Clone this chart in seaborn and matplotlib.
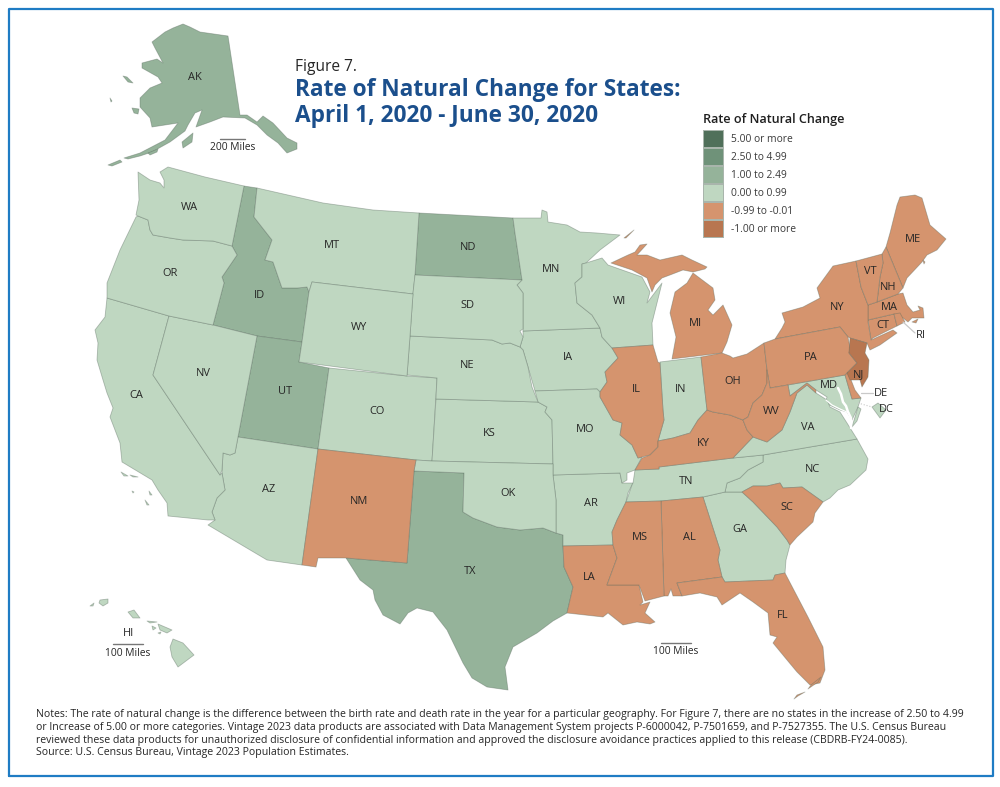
import matplotlib
matplotlib.use("Agg")
import matplotlib.pyplot as plt
from matplotlib.colors import ListedColormap, to_rgba
import numpy as np
import pandas as pd
import seaborn as sns

# Legend bins, top to bottom
BINS = ["5.00 or more", "2.50 to 4.99", "1.00 to 2.49", "0.00 to 0.99", "-0.99 to -0.01", "-1.00 or more"]
BIN_COLORS = ["#50705a", "#6f9279", "#95b39a", "#bfd7c1", "#d5946e", "#b87650"]

# States per bin
BIN_1_TO_2 = ["AK", "ID", "ND", "TX", "UT"]
BIN_0_TO_1 = ["AZ", "AR", "CA", "CO", "DC", "GA", "HI", "IN", "IA", "KS", "MD", "MN", "MO", "MT", "NE",
              "NV", "NC", "OK", "OR", "SD", "TN", "VA", "WA", "WI", "WY"]
BIN_NEG_SMALL = ["AL", "CT", "DE", "FL", "IL", "KY", "LA", "ME", "MA", "MI", "MS", "NH", "NM", "NY", "OH", "PA",
                 "RI", "SC", "VT", "WV"]
BIN_NEG_LARGE = ["NJ"]

OUTLINES = {
    "AK": [[(183, 24), (190, 27), (200, 32), (228, 36), (240, 115), (247, 115), (257, 122), (263, 116), (273, 123),
            (287, 138), (297, 143), (297, 149), (287, 153), (278, 143), (267, 135), (257, 125), (245, 118), (223, 117),
            (210, 122), (196, 127), (202, 110), (195, 113), (188, 125), (185, 131), (170, 142), (152, 152), (140, 156),
            (128, 159), (124, 158), (140, 153), (165, 140), (178, 123), (152, 127), (150, 118), (140, 107),
            (140, 98), (150, 88), (162, 83), (158, 77), (142, 68), (142, 63), (157, 59), (163, 63), (155, 48),
            (152, 42), (165, 32), (173, 28)],
           [(182, 142), (193, 133), (192, 142), (183, 148)],
           [(123, 76), (127, 77), (133, 83), (128, 82)],
           [(132, 108), (139, 109), (138, 114), (134, 113)],
           [(110, 98), (112, 101), (111, 102)],
           [(108, 165), (120, 160), (122, 162), (112, 166)],
           [(148, 153), (158, 149), (157, 152), (150, 155)]],
    "WA": [[(138, 172), (150, 180), (160, 183), (164, 188), (164, 180), (160, 172), (168, 167), (205, 177), (244, 186),
            (232, 246), (213, 241), (183, 240), (170, 238), (153, 235), (150, 230), (148, 220), (138, 216), (136, 215),
            (139, 200)]],
    "OR": [[(136, 217), (138, 216), (148, 220), (150, 230), (153, 235), (170, 238), (183, 240), (213, 241), (232, 246),
            (237, 255), (222, 277), (224, 283), (213, 325), (169, 316), (107, 298), (107, 283), (120, 250)]],
    "CA": [[(107, 298), (169, 316), (153, 375), (220, 475), (222, 473), (225, 490), (217, 498), (212, 512), (215, 520),
            (208, 520), (168, 516), (167, 503), (158, 490), (152, 480), (122, 462), (120, 443), (110, 417), (113, 408),
            (107, 393), (103, 380), (97, 360), (98, 343), (95, 330), (105, 317)],
           [(121, 472), (128, 476), (124, 476)], [(130, 475), (138, 477), (133, 477)],
           [(132, 491), (134, 492), (133, 493)], [(149, 491), (152, 495), (150, 495)], [(145, 500), (149, 505), (147, 505)]],
    "NV": [[(169, 316), (213, 325), (257, 336), (238, 437), (235, 453), (230, 455), (223, 453), (222, 470), (220, 475),
            (153, 375)]],
    "ID": [[(244, 186), (257, 188), (254, 217), (272, 240), (265, 260), (273, 262), (282, 288), (297, 288), (307, 287),
            (309, 292), (302, 342), (257, 336), (213, 325), (224, 283), (222, 277), (237, 255), (232, 246)]],
    "MT": [[(257, 188), (323, 203), (373, 210), (419, 213), (415, 275), (413, 294), (312, 282), (309, 292), (307, 287),
            (297, 288), (282, 288), (273, 262), (265, 260), (272, 240), (254, 217)]],
    "ND": [[(419, 213), (513, 218), (515, 233), (518, 253), (522, 280), (415, 275)]],
    "SD": [[(415, 275), (522, 280), (517, 285), (523, 293), (523, 329), (520, 331), (523, 337), (520, 347), (515, 345),
            (510, 343), (502, 344), (492, 340), (410, 336), (413, 293)]],
    "NE": [[(410, 336), (492, 340), (502, 344), (510, 343), (515, 345), (520, 347), (523, 350), (528, 367), (532, 387),
            (538, 402), (436, 399), (437, 378), (407, 375)]],
    "WY": [[(312, 282), (413, 294), (410, 336), (407, 376), (299, 362), (302, 342), (309, 292)]],
    "UT": [[(257, 336), (302, 342), (299, 362), (329, 368), (318, 449), (238, 437)]],
    "CO": [[(329, 368), (407, 376), (437, 378), (432, 461), (416, 460), (318, 449)]],
    "KS": [[(436, 399), (538, 402), (547, 407), (545, 412), (552, 420), (553, 464), (432, 461)]],
    "OK": [[(416, 460), (432, 461), (553, 464), (553, 475), (556, 500), (556, 533), (543, 528), (520, 530), (497, 527),
            (473, 518), (463, 512), (464, 473), (414, 471)]],
    "NM": [[(318, 449), (416, 460), (414, 471), (407, 563), (346, 558), (318, 558), (316, 567), (302, 565)]],
    "TX": [[(414, 471), (464, 473), (463, 512), (473, 518), (497, 527), (520, 530), (543, 528), (556, 533), (563, 535),
            (563, 546), (564, 567), (573, 587), (567, 613), (553, 621), (537, 633), (513, 647), (505, 667), (508, 690),
            (487, 687), (472, 678), (463, 663), (447, 630), (433, 612), (417, 608), (408, 613), (400, 624), (383, 615),
            (375, 600), (373, 590), (360, 580), (346, 558), (407, 563)]],
    "AZ": [[(223, 453), (230, 455), (235, 453), (238, 437), (318, 449), (302, 565), (267, 560), (208, 525), (215, 520),
            (212, 512), (217, 498), (225, 490), (222, 473)]],
    "MN": [[(513, 218), (541, 218), (542, 210), (547, 212), (548, 222), (567, 225), (580, 232), (597, 233), (620, 235),
            (600, 250), (586, 263), (582, 264), (582, 277), (575, 283), (577, 303), (592, 315), (600, 328), (523, 331),
            (523, 293), (517, 285), (522, 280), (518, 253), (515, 233)]],
    "WI": [[(586, 263), (602, 258), (608, 265), (642, 277), (650, 292), (647, 303), (662, 283), (652, 323), (653, 345),
            (612, 348), (602, 337), (600, 328), (592, 315), (577, 303), (575, 283), (582, 277), (582, 264)]],
    "IA": [[(523, 331), (600, 328), (602, 337), (612, 348), (618, 358), (605, 372), (607, 382), (600, 392), (597, 389),
            (535, 391), (528, 367), (523, 350), (520, 347), (523, 337)]],
    "IL": [[(612, 348), (653, 345), (658, 362), (660, 363), (663, 410), (664, 420), (658, 441), (658, 447), (650, 455),
            (642, 457), (638, 458), (632, 445), (620, 435), (622, 423), (613, 420), (600, 397), (600, 392), (607, 382),
            (605, 372), (618, 358)]],
    "IN": [[(660, 362), (701, 357), (707, 410), (698, 420), (690, 433), (673, 438), (658, 441), (664, 420), (663, 410)]],
    "OH": [[(701, 357), (722, 353), (730, 356), (733, 358), (747, 354), (764, 343), (767, 370), (767, 383), (762, 395),
            (753, 403), (748, 417), (743, 420), (730, 415), (713, 412), (707, 410)]],
    "KY": [[(707, 410), (713, 412), (730, 415), (743, 420), (747, 430), (753, 437), (733, 458), (659, 467), (659, 469),
            (635, 470), (642, 458), (650, 455), (658, 447), (658, 441), (673, 438), (690, 433), (698, 420)]],
    "TN": [[(635, 470), (659, 469), (659, 467), (733, 458), (763, 455), (763, 462), (748, 470), (740, 478), (727, 483),
            (725, 492), (703, 497), (661, 501), (626, 502), (632, 485), (633, 483)]],
    "NC": [[(763, 455), (857, 439), (868, 459), (866, 470), (850, 485), (838, 490), (830, 498), (823, 502), (802, 487),
            (783, 488), (780, 483), (767, 486), (753, 486), (742, 492), (725, 492), (727, 483), (740, 478), (748, 470),
            (763, 462)]],
    "VA": [[(733, 458), (753, 437), (767, 442), (782, 430), (790, 412), (797, 393), (807, 385), (816, 393), (827, 400),
            (830, 407), (840, 412), (847, 423), (857, 439), (763, 455)],
           [(852, 427), (858, 407), (861, 409), (857, 421)]],
    "WV": [[(767, 370), (770, 388), (788, 385), (790, 396), (807, 383), (816, 390), (816, 393), (807, 385), (797, 393),
            (790, 412), (782, 430), (767, 442), (753, 437), (747, 430), (743, 420), (748, 417), (753, 403), (762, 395),
            (767, 383)]],
    "MD": [[(788, 385), (845, 375), (852, 399), (861, 398), (858, 407), (852, 420), (847, 412), (840, 410), (825, 403),
            (827, 397), (816, 390), (807, 383), (790, 396)]],
    "DE": [[(845, 375), (848, 372), (855, 390), (861, 398), (852, 399)]],
    "PA": [[(764, 343), (775, 339), (840, 327), (848, 337), (850, 348), (849, 353), (857, 363), (847, 373), (845, 375),
            (770, 388), (767, 370)]],
    "NJ": [[(850, 338), (867, 343), (865, 353), (869, 360), (868, 377), (862, 387), (860, 380), (850, 380), (847, 373),
            (857, 363), (849, 353)]],
    "NY": [[(775, 339), (782, 328), (785, 322), (782, 313), (803, 307), (820, 298), (817, 288), (833, 266), (856, 261),
            (861, 287), (868, 305), (868, 322), (871, 340), (893, 330), (897, 333), (880, 345), (870, 350), (867, 343),
            (850, 338), (848, 337), (840, 327)]],
    "VT": [[(856, 261), (882, 254), (883, 263), (880, 277), (877, 302), (868, 305), (861, 287)]],
    "NH": [[(882, 254), (886, 247), (903, 288), (898, 294), (877, 302), (880, 277), (883, 263)]],
    "ME": [[(886, 247), (890, 233), (897, 205), (900, 197), (915, 195), (922, 198), (930, 225), (938, 232), (946, 239),
            (937, 250), (927, 255), (922, 262), (907, 278), (903, 288)],
           [(923, 260), (925, 262), (924, 264)]],
    "MA": [[(868, 305), (877, 302), (898, 294), (903, 293), (907, 305), (913, 312), (920, 310), (918, 306), (923, 308),
            (924, 318), (912, 318), (908, 322), (903, 318), (894, 314), (868, 320)],
           [(912, 322), (918, 319), (916, 323)]],
    "CT": [[(868, 320), (894, 314), (897, 326), (873, 338), (871, 340)]],
    "RI": [[(894, 314), (900, 313), (905, 322), (897, 326)]],
    "MI": [[(611, 263), (628, 255), (635, 252), (640, 245), (647, 244), (637, 255), (647, 255), (660, 260), (682, 255),
            (692, 260), (707, 267), (705, 269), (693, 272), (683, 270), (670, 275), (662, 278), (655, 285), (652, 292),
            (647, 278), (632, 270)],
           [(693, 273), (713, 288), (715, 300), (708, 310), (713, 315), (723, 305), (732, 325), (727, 342), (722, 353),
            (672, 359), (676, 337), (670, 313), (675, 292), (687, 283)],
           [(624, 238), (634, 230), (626, 238)]],
    "MO": [[(535, 391), (597, 389), (600, 392), (600, 397), (613, 420), (622, 423), (620, 435), (632, 445), (638, 458),
            (642, 457), (635, 470), (627, 473), (627, 480), (622, 483), (620, 473), (553, 475), (553, 464), (552, 420),
            (545, 412), (547, 407), (538, 402)]],
    "AR": [[(553, 475), (620, 473), (622, 483), (633, 483), (628, 493), (626, 502), (617, 520), (612, 532), (613, 545),
            (563, 546), (563, 535), (556, 533), (556, 500)]],
    "LA": [[(563, 546), (613, 545), (617, 558), (607, 585), (639, 585), (643, 602), (640, 605), (650, 602), (645, 613),
            (655, 622), (650, 624), (637, 622), (623, 625), (608, 613), (603, 617), (567, 613), (573, 587), (564, 567)]],
    "MS": [[(626, 502), (661, 501), (664, 596), (645, 601), (639, 585), (607, 585), (617, 558), (613, 545), (612, 532),
            (617, 520)]],
    "AL": [[(661, 501), (703, 497), (720, 550), (718, 560), (722, 577), (677, 583), (682, 596), (673, 596), (671, 589),
            (668, 596), (664, 596)]],
    "GA": [[(703, 497), (725, 492), (742, 492), (753, 502), (777, 527), (787, 540), (790, 545), (786, 560), (785, 573),
            (775, 575), (773, 580), (725, 582), (722, 577), (718, 560), (720, 550)]],
    "SC": [[(742, 492), (753, 486), (767, 486), (780, 483), (783, 488), (802, 487), (823, 502), (815, 513), (813, 522),
            (797, 537), (790, 545), (787, 540), (777, 527), (753, 502)]],
    "FL": [[(677, 583), (722, 577), (725, 582), (773, 580), (775, 575), (785, 573), (808, 617), (823, 647), (825, 670),
            (820, 683), (810, 685), (797, 672), (787, 660), (773, 643), (777, 637), (770, 635), (768, 613), (753, 602),
            (740, 593), (722, 605), (717, 597), (700, 593), (682, 596)],
           [(821, 677), (818, 682), (808, 689), (811, 685)],
           [(805, 692), (798, 696), (794, 699), (797, 695)]],
    "HI": [[(173, 639), (183, 643), (194, 655), (178, 667), (172, 657), (170, 647)],
           [(158, 624), (172, 630), (167, 633), (160, 630)],
           [(147, 621), (157, 622), (150, 623)],
           [(152, 626), (156, 628), (153, 630)],
           [(158, 633), (161, 632), (160, 634)],
           [(128, 612), (134, 610), (140, 618), (133, 618)],
           [(100, 600), (108, 599), (108, 603), (103, 606), (99, 603)],
           [(90, 606), (94, 603), (93, 606)]],
    "DC": [[(872, 407), (878, 403), (886, 410), (880, 418)]],
}

# Chesapeake Bay and the Potomac, drawn over Maryland and Virginia
BAY_X = [838, 841, 843, 846, 848, 851, 851]
BAY_Y = [388, 394, 402, 406, 412, 418, 428]
POTOMAC_X = [826, 832, 840, 849]
POTOMAC_Y = [400, 405, 409, 413]

LABELS = {
    "AK": (195, 77), "WA": (189, 207), "OR": (170, 273), "CA": (136, 396), "NV": (203, 374), "ID": (259, 295),
    "MT": (332, 245), "WY": (359, 327), "UT": (285, 392), "CO": (377, 411), "AZ": (269, 490), "NM": (359, 502),
    "ND": (468, 248), "SD": (467, 306), "NE": (467, 366), "KS": (489, 433), "OK": (508, 493), "TX": (470, 571),
    "MN": (551, 269), "IA": (568, 357), "MO": (585, 430), "AR": (591, 503), "LA": (589, 577), "WI": (619, 301),
    "IL": (636, 389), "MS": (640, 537), "IN": (681, 389), "MI": (695, 324), "KY": (703, 444), "TN": (686, 481),
    "AL": (689, 537), "OH": (733, 382), "WV": (771, 412), "GA": (740, 530), "FL": (783, 616), "SC": (787, 508),
    "NC": (812, 469), "VA": (808, 427), "PA": (811, 357), "NY": (837, 307), "ME": (913, 239), "VT": (870, 272),
    "NH": (888, 288), "MA": (889, 308), "CT": (883, 325), "NJ": (858, 375), "RI": (921, 336), "DE": (881, 393),
    "MD": (829, 385), "DC": (886, 409), "HI": (128, 633),
}

NOTES = [
    "Notes: The rate of natural change is the difference between the birth rate and death rate in the year for a particular geography. For Figure 7, there are no states in the increase of 2.50 to 4.99",
    "or Increase of 5.00 or more categories. Vintage 2023 data products are associated with Data Management System projects P-6000042, P-7501659, and P-7527355. The U.S. Census Bureau",
    "reviewed these data products for unauthorized disclosure of confidential information and approved the disclosure avoidance practices applied to this release (CBDRB-FY24-0085).",
    "Source: U.S. Census Bureau, Vintage 2023 Population Estimates.",
]

sns.set_theme(style="white")
plt.rcParams["font.family"] = ["Open Sans", "DejaVu Sans"]

TEXT_COLOR = "#262626"
TITLE_COLOR = "#1b4f8c"
FRAME_COLOR = "#1f7cc4"

# One row per state, the color comes from its bin
rows = []
for bin_name, states in zip(BINS[2:], [BIN_1_TO_2, BIN_0_TO_1, BIN_NEG_SMALL, BIN_NEG_LARGE]):
    rows += [(s, bin_name) for s in states]
state_bins = pd.DataFrame(rows, columns=["state", "bin"])
palette = dict(zip(BINS, sns.color_palette(BIN_COLORS)))

fig = plt.figure(figsize=(10, 7.87), dpi=100)
ax = fig.add_axes([0, 0, 1, 1])
ax.set_xlim(0, 1000)
ax.set_ylim(787, 0)
ax.axis("off")

for _, row in state_bins.iterrows():
    for ring in OUTLINES[row["state"]]:
        xs, ys = zip(*ring)
        ax.fill(xs, ys, facecolor=palette[row["bin"]], edgecolor=to_rgba("#55665a", 0.4), linewidth=0.6,
                joinstyle="round", zorder=2)

ax.plot(BAY_X, BAY_Y, color="white", linewidth=1.8, zorder=3)
ax.plot(POTOMAC_X, POTOMAC_Y, color="white", linewidth=0.9, zorder=3)

for state, (x, y) in LABELS.items():
    ax.text(x, y, state, ha="center", va="center", fontsize=7.9, color=TEXT_COLOR, zorder=5)

# Leader lines for the small states
ax.plot([903, 915], [322, 333], color="#c9c9c9", linewidth=0.9, zorder=4)
ax.plot([861, 873], [393, 393], color="#c9c9c9", linewidth=0.9, zorder=4)
ax.plot([858, 872], [403, 407], color="#c9c9c9", linewidth=0.8, linestyle=":", zorder=4)

# Scale bars
for x0, x1, y, label in [(220, 245, 139, "200 Miles"), (113, 143, 644, "100 Miles"), (661, 691, 643, "100 Miles")]:
    ax.plot([x0, x1], [y, y], color="#777777", linewidth=1.0, zorder=4)
    ax.text((x0 + x1) / 2, y + 9, label, ha="center", va="center", fontsize=7.4, color=TEXT_COLOR)

# Title
ax.text(295, 67, "Figure 7.", ha="left", va="center", fontsize=11.2, color=TEXT_COLOR)
ax.text(295, 90, "Rate of Natural Change for States:", ha="left", va="center", fontsize=16.3, fontweight="bold",
        color=TITLE_COLOR)
ax.text(295, 116, "April 1, 2020 - June 30, 2020", ha="left", va="center", fontsize=16.3, fontweight="bold",
        color=TITLE_COLOR)

# Legend as a one column heatmap
ax.text(703, 119, "Rate of Natural Change", ha="left", va="center", fontsize=9.05, fontweight="semibold",
        color="#1f1f1f")
leg_ax = fig.add_axes([703 / 1000, 1 - 238 / 787, 21 / 1000, 108 / 787])
sns.heatmap(np.arange(len(BINS)).reshape(-1, 1), ax=leg_ax, cmap=ListedColormap(BIN_COLORS), cbar=False,
            xticklabels=False, yticklabels=False, linewidths=0.2, linecolor="#a9b5ac")
for i, label in enumerate(BINS):
    ax.text(731, 139 + i * 18, label, ha="left", va="center", fontsize=7.4, color="#3a3a3a")

# Notes
for i, line in enumerate(NOTES):
    ax.text(36, 715 + i * 12.5, line, ha="left", va="center", fontsize=7.53, color=TEXT_COLOR)

# Frame
ax.plot([9, 9, 993, 993, 9], [776, 9, 9, 776, 776], color=FRAME_COLOR, linewidth=1.6, zorder=1)

fig.savefig("out.png", dpi=100)
